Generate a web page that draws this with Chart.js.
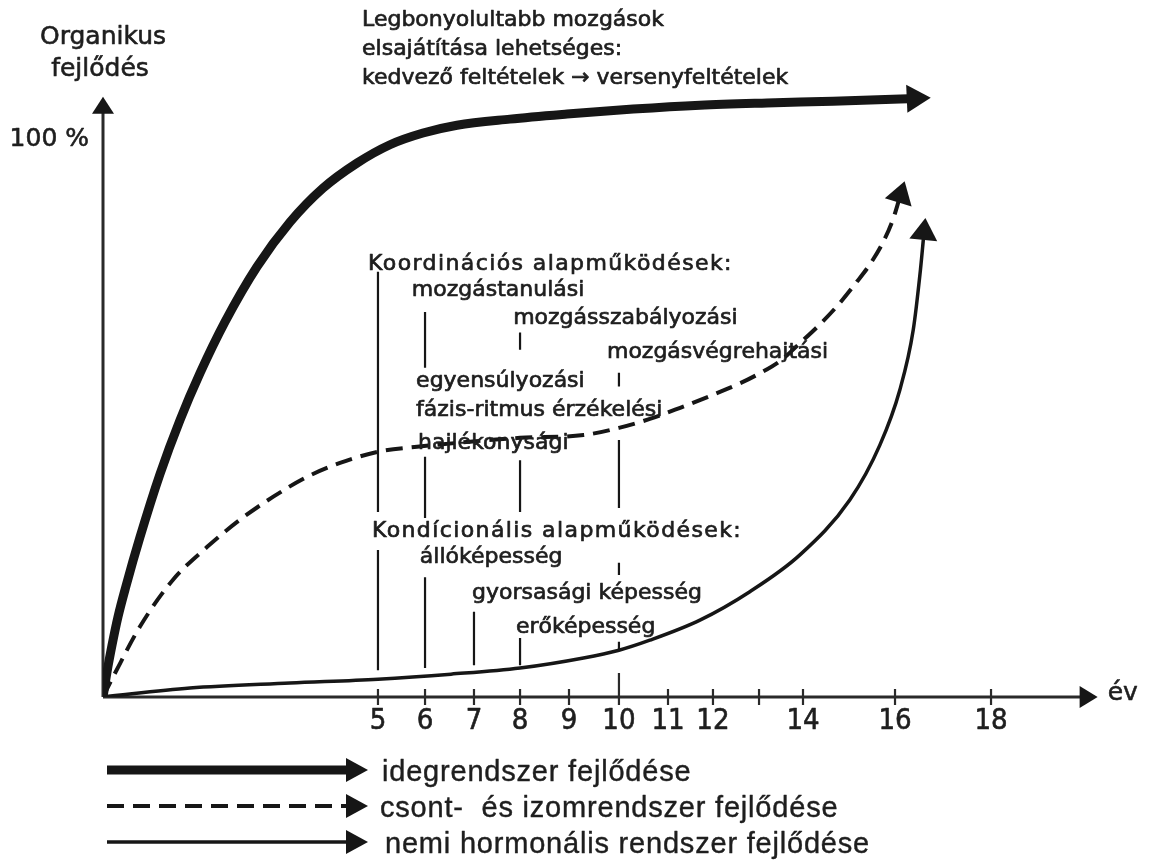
<!DOCTYPE html>
<html>
<head>
<meta charset="utf-8">
<script src="https://cdn.jsdelivr.net/npm/chart.js@4"></script>
<style>
  html, body { margin: 0; padding: 0; background: #fff; }
  #wrap { width: 1150px; height: 865px; }
</style>
</head>
<body>
<div id="wrap"><canvas id="devChart"></canvas></div>
<script>
// age axis (év) – ticks as printed, 13 has no label
const tickYears  = [5, 6, 7, 8, 9, 10, 11, 12, 13, 14, 16, 18];
const tickLabels = ["5", "6", "7", "8", "9", "10", "11", "12", "", "14", "16", "18"];

// idegrendszer fejlődése (thick line), % of organic development
const nerveYears = [0, 0.073, 0.164, 0.273, 0.418, 0.673, 1.036, 1.4, 1.764, 2.218, 2.8, 3.4, 4.0, 4.618, 5.255, 5.957, 6.653, 7.78, 8.96, 10.29, 11.71, 13.18, 14.65, 16.11, 16.37];
const nerveLevel = [0, 4.5, 9.3, 14.4, 19.9, 28.7, 40.0, 49.7, 58.1, 67.3, 77.2, 85.2, 91.3, 95.8, 99.1, 101.2, 102.6, 103.7, 104.6, 105.5, 106.2, 106.6, 106.9, 107.3, 107.4];

// csont- és izomrendszer fejlődése (dashed line)
const boneYears = [0, 0.22, 0.67, 1.27, 1.89, 2.49, 3.09, 3.71, 4.31, 5, 5.83, 6.92, 8, 9.29, 10, 10.63, 11.27, 11.93, 12.59, 13.02, 13.48, 13.93, 14.37, 14.8, 15.17, 15.46, 15.74, 15.96, 16.1];
const boneLevel = [0, 4.3, 12.6, 21, 26.9, 31.8, 35.9, 39.5, 42, 44, 44.9, 45.8, 46.5, 47, 48.3, 49.9, 51.9, 54.0, 56.3, 58.1, 60.3, 63.5, 66.9, 70.7, 74.5, 77.7, 81.6, 85.8, 89.7];

// nemi hormonális rendszer fejlődése (thin line)
const hormoneYears = [0, 1.58, 3.4, 5, 6.53, 8, 9.29, 10, 10.63, 11.71, 12.8, 13.93, 15.02, 15.67, 16.1, 16.38, 16.53, 16.6];
const hormoneLevel = [0, 1.6, 2.5, 3.2, 4.1, 5.2, 7.0, 8.4, 10.2, 13.8, 18.9, 25.5, 35.4, 45.2, 55.1, 65.9, 76.7, 83];

// vertical guide strokes from the labels down to the curves
const guideYears  = [5, 5, 6, 6, 6, 7, 8, 8, 8, 10, 10, 10, 10];
const guideTop    = [76.3, 26.4, 69.1, 43.1, 21.5, 15.3, 65.4, 42.5, 10.6, 58.2, 46.1, 24.1, 9.9];
const guideBottom = [33.2, 4.8, 59.1, 32.1, 5.2, 5.7, 62.3, 33.2, 5.7, 55.7, 33.9, 21.9, 8.4];

// the printed age axis is not evenly spaced: year -> share of axis length
const xKnotYears = [0, 5, 6, 7, 8, 9, 10, 11, 12, 13, 14, 16, 18, 20.3];
const xKnotFrac  = [0, .2758, .3230, .3721, .4183, .4674, .5175, .5667, .6118, .6580, .7021, .7944, .8907, 1];

function interp(v, xs, ys) {
  for (let i = 1; i < xs.length; i++) {
    if (v <= xs[i] || i === xs.length - 1) {
      return ys[i - 1] + (v - xs[i - 1]) * (ys[i] - ys[i - 1]) / (xs[i] - xs[i - 1]);
    }
  }
}

class AgeScale extends Chart.LinearScale {
  getPixelForValue(value) {
    return this.getPixelForDecimal(interp(value, xKnotYears, xKnotFrac));
  }
  getValueForPixel(pixel) {
    return interp(this.getDecimalForPixel(pixel), xKnotFrac, xKnotYears);
  }
}
AgeScale.id = "age";
AgeScale.defaults = Chart.LinearScale.defaults;
Chart.register(AgeScale);

const pts = (xs, ys) => xs.map((v, i) => ({ x: v, y: ys[i] }));
const guidePts = [];
guideYears.forEach((g, i) => {
  guidePts.push({ x: g, y: guideTop[i] }, { x: g, y: guideBottom[i] }, { x: g, y: null });
});

const INK = "#161616";
const TXT = "#1e1e1e";

function head(ctx, tx, ty, ang, len, half) {
  const c = Math.cos(ang), s = Math.sin(ang);
  ctx.beginPath();
  ctx.moveTo(tx, ty);
  ctx.lineTo(tx - len * c + half * s, ty - len * s - half * c);
  ctx.lineTo(tx - len * c - half * s, ty - len * s + half * c);
  ctx.closePath();
  ctx.fill();
}

// slightly heavier text, like the printed original
function ink(ctx, text, px, py, w) {
  ctx.lineWidth = w;
  ctx.strokeText(text, px, py);
  ctx.fillText(text, px, py);
}

const diagram = {
  id: "diagram",
  beforeDatasetsDraw(chart) {
    const { ctx, scales: { x, y } } = chart;
    const x0 = x.getPixelForValue(0), y0 = y.getPixelForValue(0);
    ctx.save();
    ctx.strokeStyle = "#2a2a2a";
    ctx.fillStyle = INK;
    ctx.lineWidth = 3;
    // y axis
    ctx.beginPath();
    ctx.moveTo(x0, y0);
    ctx.lineTo(x0, y.getPixelForValue(105));
    ctx.stroke();
    head(ctx, x0, y.getPixelForValue(107.7), -Math.PI / 2, 17, 11);
    // x axis
    ctx.beginPath();
    ctx.moveTo(x0, y0);
    ctx.lineTo(x.getPixelForValue(19.9), y0);
    ctx.stroke();
    head(ctx, x.getPixelForValue(20.25), y0, 0, 18, 11);
    // tick marks
    ctx.lineWidth = 2.2;
    tickYears.forEach(t => {
      const px = x.getPixelForValue(t);
      ctx.beginPath();
      ctx.moveTo(px, y0 + 8);
      ctx.lineTo(px, t === 10 ? y0 - 24 : y0 - 8);
      ctx.stroke();
    });
    ctx.restore();
  },
  afterDatasetsDraw(chart, args, opts) {
    const { ctx, scales: { x, y } } = chart;
    const x0 = x.getPixelForValue(0), y0 = y.getPixelForValue(0);
    ctx.save();
    ctx.fillStyle = INK;
    // arrow heads at curve ends
    [[0, 24, 14], [1, 22, 14], [2, 22, 14]].forEach(([i, len, half]) => {
      const els = chart.getDatasetMeta(i).data;
      const p = els[els.length - 1], q = els[els.length - 2];
      let cx = p.cp1x, cy = p.cp1y;
      if (cx === undefined || (Math.abs(cx - p.x) < 0.5 && Math.abs(cy - p.y) < 0.5)) { cx = q.x; cy = q.y; }
      const ang = Math.atan2(p.y - cy, p.x - cx);
      head(ctx, p.x + Math.cos(ang) * len * 0.75, p.y + Math.sin(ang) * len * 0.75, ang, len, half);
    });

    ctx.fillStyle = TXT;
    ctx.strokeStyle = TXT;
    ctx.lineJoin = "round";

    // tick labels
    ctx.textAlign = "center";
    ctx.textBaseline = "top";
    ctx.font = '29px "Liberation Sans Narrow", "DejaVu Sans Condensed", "Liberation Sans", sans-serif';
    tickYears.forEach((t, i) => ink(ctx, tickLabels[i], x.getPixelForValue(t), y0 + 10, 0.6));

    // axis titles
    ctx.font = '25px "DejaVu Sans", sans-serif';
    ctx.textBaseline = "middle";
    ink(ctx, "Organikus", x0, y.getPixelForValue(118.3), 0.6);
    ink(ctx, "fejlődés", x0 - 3, y.getPixelForValue(112.6), 0.6);
    ctx.textAlign = "right";
    ink(ctx, "100 %", x0 - 14, y.getPixelForValue(100), 0.6);
    ctx.textAlign = "left";
    ink(ctx, "év", x.getPixelForValue(20.25) + 10, y0 - 4, 0.6);

    // notes
    ctx.font = '22px "DejaVu Sans", sans-serif';
    opts.notes.forEach(n => {
      ctx.letterSpacing = n.wide ? "1.4px" : "0px";
      ink(ctx, n.t, x.getPixelForValue(n.x), y.getPixelForValue(n.y), 0.7);
    });

    // legend: arrows + text
    const L = opts.legend;
    L.rows.forEach((r, i) => {
      const ds = chart.data.datasets[i];
      ctx.save();
      ctx.strokeStyle = INK;
      ctx.lineWidth = ds.borderWidth;
      ctx.setLineDash(ds.borderDash || []);
      ctx.lineCap = "butt";
      ctx.beginPath();
      ctx.moveTo(L.x1, r.y);
      ctx.lineTo(L.x2 - 10, r.y);
      ctx.stroke();
      ctx.restore();
      ctx.fillStyle = INK;
      head(ctx, L.x2 + 10, r.y, 0, 22, 12);
      ctx.fillStyle = TXT;
      ctx.font = '29px "Liberation Sans", Arial, sans-serif';
      ctx.letterSpacing = "0.8px";
      ink(ctx, r.t, r.tx, r.y + 3, 0.4);
    });
    ctx.letterSpacing = "0px";
    ctx.restore();
  }
};

new Chart(document.getElementById("devChart"), {
  type: "scatter",
  data: {
    datasets: [
      { label: "idegrendszer fejlődése", data: pts(nerveYears, nerveLevel), showLine: true,
        borderColor: INK, borderWidth: 9, cubicInterpolationMode: "monotone", pointRadius: 0, borderCapStyle: "round" },
      { label: "csont- és izomrendszer fejlődése", data: pts(boneYears, boneLevel), showLine: true,
        borderColor: INK, borderWidth: 4, borderDash: [17, 9], cubicInterpolationMode: "monotone", pointRadius: 0 },
      { label: "nemi hormonális rendszer fejlődése", data: pts(hormoneYears, hormoneLevel), showLine: true,
        borderColor: INK, borderWidth: 3.5, cubicInterpolationMode: "monotone", pointRadius: 0, borderCapStyle: "round" },
      { label: "guides", data: guidePts, showLine: true, spanGaps: false,
        borderColor: INK, borderWidth: 2.2, tension: 0, pointRadius: 0 }
    ]
  },
  options: {
    responsive: true,
    maintainAspectRatio: false,
    animation: false,
    events: [],
    layout: { padding: { left: 103, right: 50, top: 84, bottom: 168 } },
    scales: {
      x: { type: "age", min: 0, max: 20.3, display: false },
      y: { type: "linear", min: 0, max: 110, display: false }
    },
    plugins: {
      legend: { display: false },
      tooltip: { enabled: false },
      diagram: {
        notes: [
          { t: "Legbonyolultabb mozgások", x: 4.71, y: 121.4 },
          { t: "elsajátítása lehetséges:", x: 4.71, y: 116.2 },
          { t: "kedvező feltételek → versenyfeltételek", x: 4.71, y: 111.1 },
          { t: "Koordinációs alapműködések:", x: 4.82, y: 77.6, wide: true },
          { t: "mozgástanulási", x: 5.72, y: 72.9 },
          { t: "mozgásszabályozási", x: 7.85, y: 68.0 },
          { t: "mozgásvégrehajtási", x: 9.76, y: 61.9 },
          { t: "egyensúlyozási", x: 5.81, y: 56.7 },
          { t: "fázis-ritmus érzékelési", x: 5.81, y: 51.5 },
          { t: "hajlékonysági", x: 5.85, y: 45.6 },
          { t: "Kondícionális alapműködések:", x: 4.89, y: 29.8, wide: true },
          { t: "állóképesség", x: 5.89, y: 25.0 },
          { t: "gyorsasági képesség", x: 6.96, y: 18.7 },
          { t: "erőképesség", x: 7.91, y: 12.6 }
        ],
        legend: {
          x1: 107, x2: 358,
          rows: [
            { y: 770, tx: 382, t: "idegrendszer fejlődése" },
            { y: 806, tx: 380, t: "csont-  és izomrendszer fejlődése" },
            { y: 842, tx: 385, t: "nemi hormonális rendszer fejlődése" }
          ]
        }
      }
    }
  },
  plugins: [diagram]
});
</script>
</body>
</html>
